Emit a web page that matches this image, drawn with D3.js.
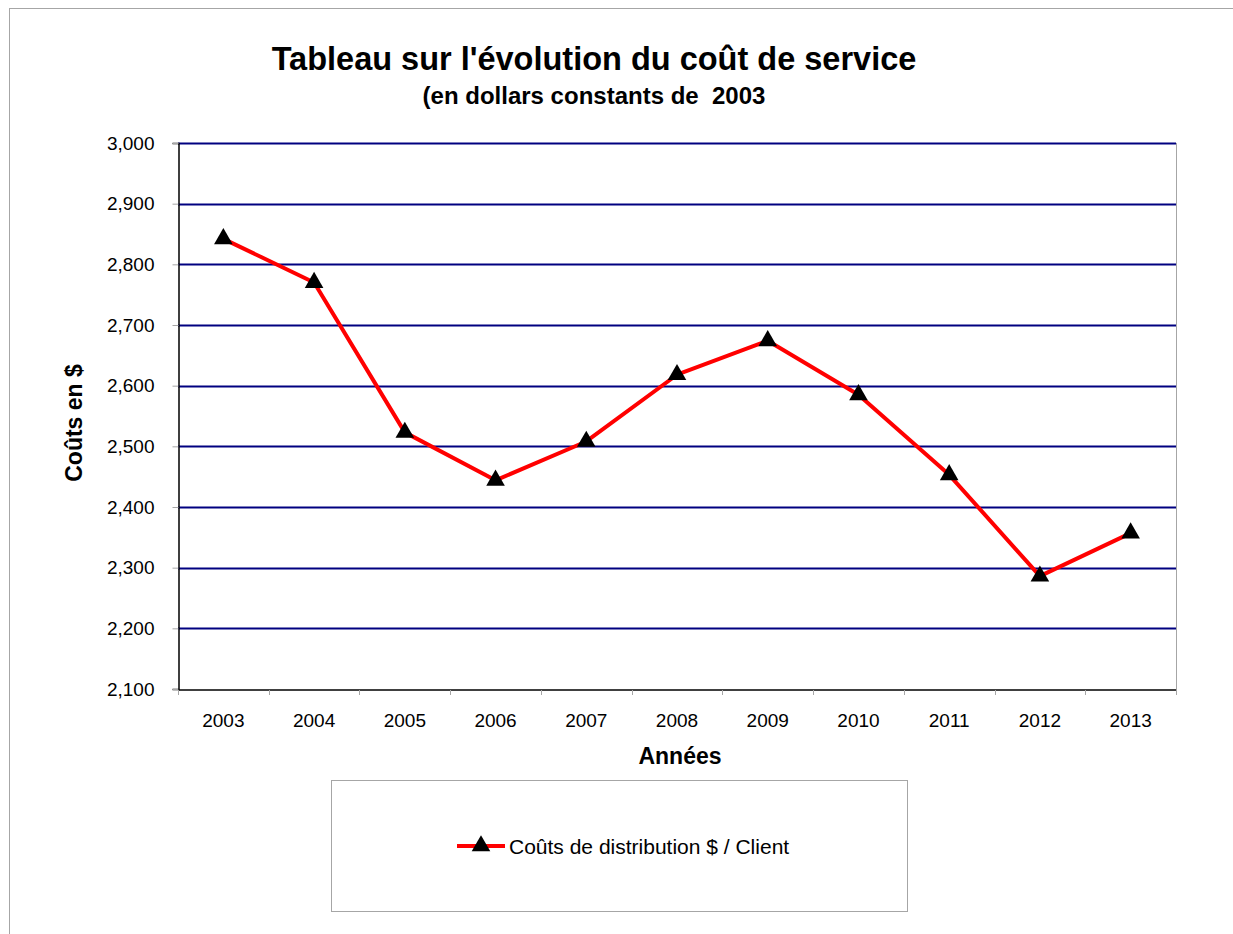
<!DOCTYPE html>
<head>
    <meta charset="utf-8">
    <title>Coût de service</title>
    <script src="https://cdn.jsdelivr.net/npm/d3@7"></script>
    <style>
        body { margin: 0; background: #fff; }
        text { font-family: "Liberation Sans", Arial, sans-serif; }
    </style>
</head>
<body>

<div id="container"></div>

<script>

// Données
const annees = ["2003", "2004", "2005", "2006", "2007", "2008", "2009", "2010", "2011", "2012", "2013"];
const couts = [2842, 2770, 2523, 2444, 2508, 2618, 2674, 2585, 2453, 2286, 2357];
const yTicks = [2100, 2200, 2300, 2400, 2500, 2600, 2700, 2800, 2900, 3000];
const serieNom = "Coûts de distribution $ / Client";

// Dimensions
const width = 1233;
const height = 934;
const marginTop = 143;
const marginLeft = 178;
const plotRight = 1176;
const plotBottom = 689;

const svg = d3.create("svg")
    .attr("width", width)
    .attr("height", height);

// Cadre extérieur
svg.append("rect")
    .attr("x", 9.5).attr("y", 8.5)
    .attr("width", width).attr("height", height)
    .attr("fill", "white")
    .attr("stroke", "#a6a6a6");

// Echelles
const x = d3.scaleBand()
    .domain(annees)
    .range([marginLeft, plotRight]);

const y = d3.scaleLinear()
    .domain([2100, 3000])
    .range([plotBottom, marginTop]);

// Lignes de grille
svg.append("g")
    .selectAll("line")
    .data(yTicks.filter(d => d > 2100))
    .enter().append("line")
    .attr("x1", marginLeft).attr("x2", plotRight)
    .attr("y1", d => Math.round(y(d)) + 0.5)
    .attr("y2", d => Math.round(y(d)) + 0.5)
    .attr("stroke", "#000080")
    .attr("stroke-width", 2);

// Bord droit du graphique
svg.append("line")
    .attr("x1", plotRight + 0.5).attr("x2", plotRight + 0.5)
    .attr("y1", marginTop).attr("y2", plotBottom)
    .attr("stroke", "#a6a6a6");

// Axe Y
const yAxis = svg.append("g")
    .attr("transform", `translate(${marginLeft + 0.5},0)`)
    .call(d3.axisLeft(y)
        .tickValues(yTicks)
        .tickFormat(d3.format(","))
        .tickSize(6)
        .tickPadding(18));
yAxis.select(".domain").attr("stroke", "#000").attr("stroke-width", 1.5);
yAxis.selectAll(".tick line").attr("stroke", "#a6a6a6");
yAxis.selectAll("text")
    .attr("font-size", 19)
    .attr("fill", "#000")
    .style("font-family", "'Liberation Sans', Arial, sans-serif");

// Axe X
const xAxis = svg.append("g")
    .attr("transform", `translate(0,${plotBottom + 0.5})`)
    .call(d3.axisBottom(x).tickSize(0).tickPadding(24));
xAxis.select(".domain").attr("stroke", "#000").attr("stroke-width", 1.5);
xAxis.selectAll("text")
    .attr("font-size", 19)
    .attr("fill", "#000")
    .style("font-family", "'Liberation Sans', Arial, sans-serif");

// Petits traits entre les catégories
svg.append("g")
    .selectAll("line")
    .data(annees.concat(["fin"]))
    .enter().append("line")
    .attr("x1", (d, i) => Math.round(marginLeft + i * x.step()) + 0.5)
    .attr("x2", (d, i) => Math.round(marginLeft + i * x.step()) + 0.5)
    .attr("y1", plotBottom + 1)
    .attr("y2", plotBottom + 6)
    .attr("stroke", "#a6a6a6");

// Ligne de la série
const line = d3.line()
    .x((d, i) => x(annees[i]) + x.bandwidth() / 2)
    .y(d => y(d));

svg.append("path")
    .datum(couts)
    .attr("d", line)
    .attr("fill", "none")
    .attr("stroke", "#ff0000")
    .attr("stroke-width", 4)
    .attr("stroke-linejoin", "round");

// Marqueurs triangles
const tri = d3.symbol().type(d3.symbolTriangle).size(150);
svg.append("g")
    .selectAll("path")
    .data(couts)
    .enter().append("path")
    .attr("d", tri)
    .attr("transform", (d, i) => `translate(${x(annees[i]) + x.bandwidth() / 2},${y(d)})`)
    .attr("fill", "#000");

// Titres
svg.append("text")
    .attr("x", 594).attr("y", 70)
    .attr("text-anchor", "middle")
    .attr("font-size", 32.5)
    .attr("font-weight", "bold")
    .text("Tableau sur l'évolution du coût de service");

svg.append("text")
    .attr("x", 594).attr("y", 104)
    .attr("text-anchor", "middle")
    .attr("font-size", 24)
    .attr("font-weight", "bold")
    .attr("xml:space", "preserve")
    .style("white-space", "pre")
    .text("(en dollars constants de  2003");

svg.append("text")
    .attr("transform", "translate(82,423) rotate(-90)")
    .attr("text-anchor", "middle")
    .attr("font-size", 23)
    .attr("font-weight", "bold")
    .text("Coûts en $");

svg.append("text")
    .attr("x", 680).attr("y", 764)
    .attr("text-anchor", "middle")
    .attr("font-size", 23)
    .attr("font-weight", "bold")
    .text("Années");

// Légende
const legend = svg.append("g");
legend.append("rect")
    .attr("x", 331.5).attr("y", 780.5)
    .attr("width", 576).attr("height", 131)
    .attr("fill", "white")
    .attr("stroke", "#a6a6a6");
legend.append("line")
    .attr("x1", 457).attr("x2", 505)
    .attr("y1", 846).attr("y2", 846)
    .attr("stroke", "#ff0000")
    .attr("stroke-width", 4);
legend.append("path")
    .attr("d", tri)
    .attr("transform", "translate(481,846)")
    .attr("fill", "#000");
legend.append("text")
    .attr("x", 509).attr("y", 854)
    .attr("font-size", 21)
    .text(serieNom);

container.append(svg.node());

</script>

</body>
